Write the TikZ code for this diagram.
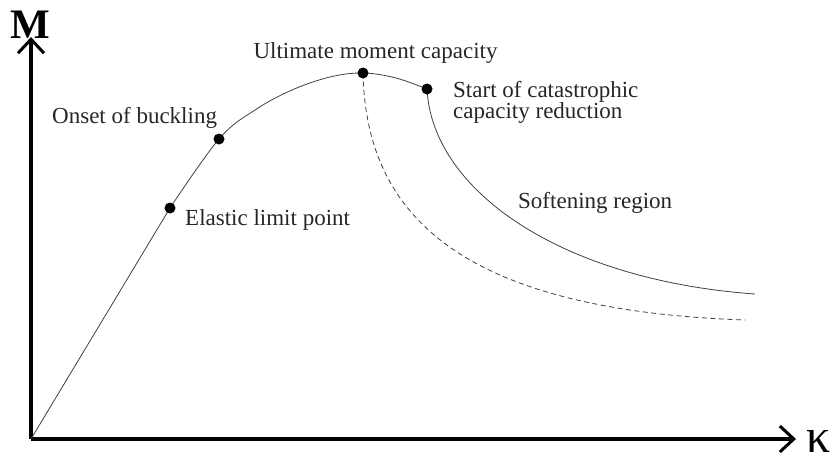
\documentclass[tikz,border=0pt]{standalone}
\usepackage{fontspec}
\setmainfont{Liberation Serif}
\usetikzlibrary{arrows.meta}
\begin{document}
\begin{tikzpicture}[x=1pt,y=-1pt,
  axis/.style={line width=3.4pt,-{Straight Barb[length=14pt,width=26pt,line width=3pt]}},
  curve/.style={line width=0.8pt,draw=black!75},
  dashcurve/.style={line width=0.8pt,draw=black!75,dash pattern=on 5pt off 3.5pt},
  dot/.style={circle,fill=black,inner sep=0pt,minimum size=11pt},
  lbl/.style={inner sep=0pt,font=\fontsize{23}{21}\selectfont,text=black!85}]
\useasboundingbox (0,0) rectangle (840,464);
% axes
\coordinate (O) at (31,439);
\coordinate (Ytip) at (31,37);
\coordinate (Xtip) at (796,439);
\draw[axis] (O) -- (Ytip);
\draw[axis] (O) -- (Xtip);
\node[inner sep=0pt,anchor=base,font=\fontsize{42}{42}\selectfont\bfseries] (M) at (30,38) {M};
\node[inner sep=0pt,anchor=base west,font=\fontsize{48}{48}\selectfont] (K) at (806,452) {κ};
% key points
\coordinate (E) at (170,208);
\coordinate (B) at (219,139);
\coordinate (U) at (363,73);
\coordinate (S) at (427,89);
\coordinate (SE) at (755,294);
\coordinate (DE) at (745,320);
% curves
\draw[curve] (O) -- (E);
\draw[curve] plot[smooth,tension=0.6] coordinates {(E) (B) (255,110) (292,90) (330,77) (U) (396,78) (S)};
\draw[curve] (S) .. controls (432,190) and (560,280) .. (SE);
\draw[dashcurve] (U) .. controls (366,215) and (460,310) .. (DE);
% dots
\node[dot] (Ed) at (E) {};
\node[dot] (Bd) at (B) {};
\node[dot] (Ud) at (U) {};
\node[dot] (Sd) at (S) {};
% labels
\node[lbl,anchor=base] (Lu) at (375.5,58) {Ultimate moment capacity};
\node[lbl,anchor=base west] (Lb) at (52,123) {Onset of buckling};
\node[lbl,anchor=base west] (Le) at (185,225) {Elastic limit point};
\node[lbl,anchor=base west] (Ls1) at (453,97) {Start of catastrophic};
\node[lbl,anchor=base west] (Ls2) at (453,118) {capacity reduction};
\node[lbl,anchor=base west] (Lsr) at (518,208) {Softening region};
\end{tikzpicture}
\end{document}
